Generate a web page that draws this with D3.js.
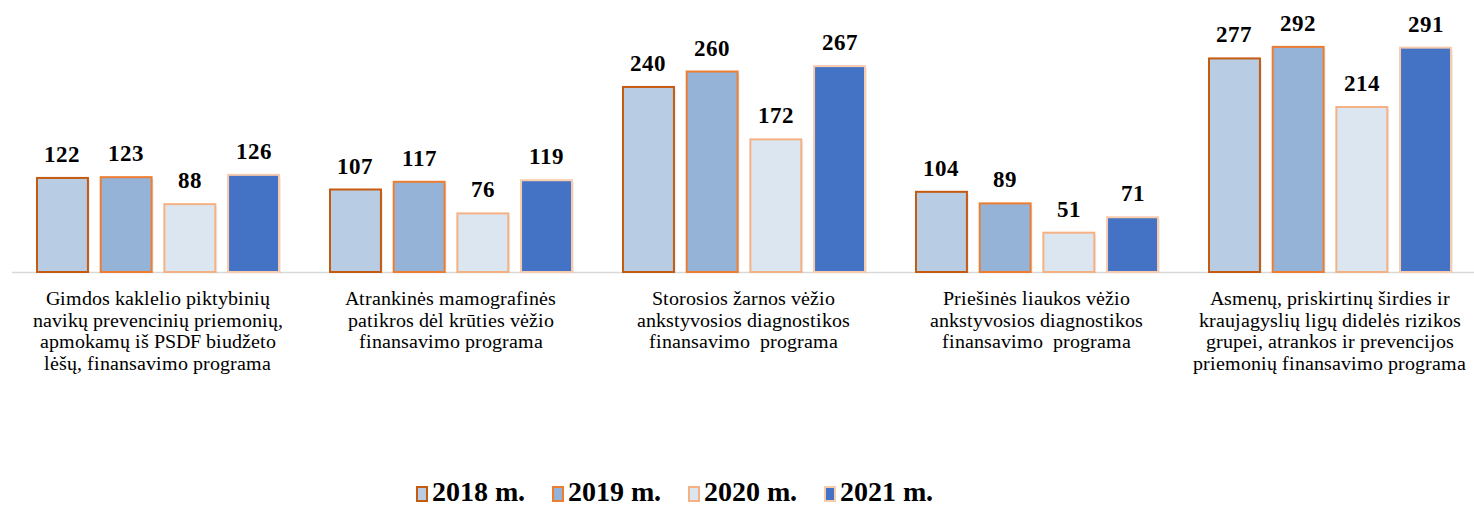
<!DOCTYPE html>
<html>
<head>
<meta charset="utf-8">
<script src="https://cdn.jsdelivr.net/npm/d3@7"></script>
<style>
  @font-face { font-family: "ChartSerif"; font-weight: normal; src: local("Liberation Serif"), local("LiberationSerif"), local("Times New Roman"); }
  @font-face { font-family: "ChartSerif"; font-weight: bold; src: local("Liberation Serif Bold"), local("LiberationSerif-Bold"), local("Times New Roman Bold"); }
  html, body { margin: 0; padding: 0; background: #fff; }
  svg { display: block; }
  svg text { font-family: "ChartSerif", "Liberation Serif", "Times New Roman", "DejaVu Serif", serif !important; }
</style>
</head>
<body>
<svg id="chart" width="1474" height="506"></svg>
<script>
// Programme names (each line of the wrapped category label)
const categories = [
  ["Gimdos kaklelio piktybinių", "navikų prevencinių priemonių,", "apmokamų iš PSDF biudžeto", "lėšų, finansavimo programa"],
  ["Atrankinės mamografinės", "patikros dėl krūties vėžio", "finansavimo programa"],
  ["Storosios žarnos vėžio", "ankstyvosios diagnostikos", "finansavimo  programa"],
  ["Priešinės liaukos vėžio", "ankstyvosios diagnostikos", "finansavimo  programa"],
  ["Asmenų, priskirtinų širdies ir", "kraujagyslių ligų didelės rizikos", "grupei, atrankos ir prevencijos", "priemonių finansavimo programa"]
];
const seriesNames = ["2018 m.", "2019 m.", "2020 m.", "2021 m."];
const values2018 = [122, 107, 240, 104, 277];
const values2019 = [123, 117, 260, 89, 292];
const values2020 = [88, 76, 172, 51, 214];
const values2021 = [126, 119, 267, 71, 291];
const seriesValues = [values2018, values2019, values2020, values2021];

const fills   = ["#B8CCE4", "#95B3D7", "#DCE6F1", "#4472C4"];
const strokes = ["#C55A11", "#ED7D31", "#F4B183", "#F8CBAD"];

const svg = d3.select("#chart");
const baseY = 272;

const x0 = d3.scaleBand().domain(d3.range(categories.length)).range([11, 1476]);
const x1 = d3.scaleBand().domain(d3.range(seriesNames.length)).range([26, 268]).paddingInner(0.2);
const y = d3.scaleLinear().domain([0, 350]).range([baseY, baseY - 350 * 0.771]);

// Baseline axis
svg.append("line")
  .attr("x1", 12).attr("x2", 1474)
  .attr("y1", baseY + 0.5).attr("y2", baseY + 0.5)
  .attr("stroke", "#D9D9D9").attr("stroke-width", 1.5);

categories.forEach((lines, ci) => {
  const gx = x0(ci);
  seriesValues.forEach((vals, si) => {
    const v = vals[ci];
    const bx = gx + x1(si);
    // soft shadow under each bar
    svg.append("rect")
      .attr("x", bx + 2).attr("y", y(v) + 2)
      .attr("width", x1.bandwidth()).attr("height", baseY - y(v) - 1)
      .attr("fill", "#000").attr("opacity", 0.07);
    svg.append("rect")
      .attr("x", bx)
      .attr("y", y(v))
      .attr("width", x1.bandwidth())
      .attr("height", baseY - y(v))
      .attr("fill", fills[si])
      .attr("stroke", strokes[si])
      .attr("stroke-width", 2);
    svg.append("text")
      .attr("x", bx + x1.bandwidth() / 2)
      .attr("y", y(v) - 16)
      .attr("text-anchor", "middle")
      .style("font-weight", "bold")
      .style("font-size", "23px")
      .attr("fill", "#000")
      .text(v);
  });
  // category label, one text per line
  lines.forEach((line, li) => {
    svg.append("text")
      .attr("x", gx + x0.bandwidth() / 2)
      .attr("y", 305 + li * 21.5)
      .attr("text-anchor", "middle")
      .style("font-size", "19.5px")
      .style("white-space", "pre")
      .attr("fill", "#000")
      .text(line);
  });
});

// Legend
const legendX = [417, 553, 689, 825];
seriesNames.forEach((name, i) => {
  svg.append("rect")
    .attr("x", legendX[i]).attr("y", 487)
    .attr("width", 10).attr("height", 14)
    .attr("fill", fills[i])
    .attr("stroke", strokes[i])
    .attr("stroke-width", 2);
  svg.append("text")
    .attr("x", legendX[i] + 15).attr("y", 501)
    .style("font-weight", "bold")
    .style("font-size", "28px")
    .attr("fill", "#000")
    .text(name);
});
</script>
</body>
</html>
